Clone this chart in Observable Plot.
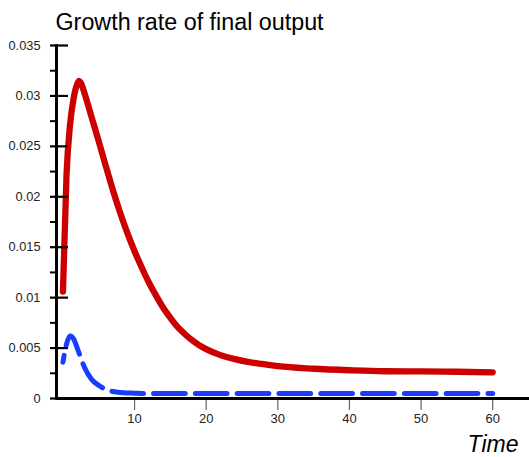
<!DOCTYPE html>
<html>
<head>
<meta charset="utf-8">
<script src="https://cdn.jsdelivr.net/npm/d3@7"></script>
<script src="https://cdn.jsdelivr.net/npm/@observablehq/plot@0.6"></script>
<style>
  html, body { margin: 0; padding: 0; background: #fff; }
  svg { font-family: "Liberation Sans", Arial, sans-serif; display: block; }
</style>
</head>
<body>
<div id="chart"></div>
<script>
const titleText = "Growth rate of final output";
const xLabelText = "Time";
const time = [0,0.5,1,1.5,2,2.25,2.5,3,4,5,6,7,8,9,10,11,12,13,14,15,16,17,18,19,20,22,24,26,28,30,35,40,45,50,55,60];
const redValues = [0.0106,0.0222,0.0272,0.0298,0.0312,0.0315,0.0313,0.0303,0.0279,0.0255,0.0230,0.0206,0.0184,0.0164,0.0146,0.0130,0.0115,0.0102,0.0090,0.0080,0.0071,0.0064,0.0058,0.0053,0.0049,0.0043,0.0039,0.0036,0.0034,0.0032,0.00295,0.0028,0.0027,0.00268,0.00265,0.0026];
const blueValues = [0.0036,0.0054,0.0062,0.0059,0.0050,0.0045,0.0040,0.0031,0.0019,0.0013,0.0009,0.0007,0.0006,0.00055,0.00053,0.0005,0.0005,0.0005,0.0005,0.0005,0.0005,0.0005,0.0005,0.0005,0.0005,0.0005,0.0005,0.0005,0.0005,0.0005,0.0005,0.0005,0.0005,0.0005,0.0005,0.0005];
const xTicks = [10,20,30,40,50,60];
const yMajorTicks = [0,0.005,0.01,0.015,0.02,0.025,0.03,0.035];
const yMinorTicks = [0.0025,0.0075,0.0125,0.0175,0.0225,0.0275,0.0325];
const yTickLabels = ["0","0.005","0.01","0.015","0.02","0.025","0.03","0.035"];

const redData = time.map((t, i) => ({t, v: redValues[i]}));
const blueData = time.map((t, i) => ({t, v: blueValues[i]}));

const dashLen = 31.7, gapLen = 10.1;
const dashAnchorT = 24.3; // a dash of the flat run starts here

const chart = Plot.plot({
  width: 529,
  height: 457,
  marginLeft: 56,
  marginRight: 1,
  marginTop: 45,
  marginBottom: 59,
  style: {fontFamily: "'Liberation Sans', Arial, sans-serif", background: "#fff"},
  x: {domain: [-0.9, 65.0]},
  y: {domain: [0, 0.035]},
  marks: [
    Plot.line(blueData, {x: "t", y: "v", stroke: "#1a3cff", strokeWidth: 5, strokeDasharray: `${dashLen},${gapLen}`, curve: "monotone-x", className: "blue-line"}),
    Plot.line(redData, {x: "t", y: "v", stroke: "#cc0000", strokeWidth: 6.3, strokeLinecap: "round", strokeLinejoin: "round", curve: "monotone-x"}),
    Plot.axisX(xTicks, {anchor: "bottom", tickSize: 12, tickPadding: 3, stroke: "#666", strokeWidth: 1.2, fill: "#222", fontSize: 13, label: null}),
    Plot.axisY(yMinorTicks, {anchor: "left", tickSize: 6, text: null, stroke: "#000", strokeWidth: 2, label: null}),
    Plot.axisY(yMajorTicks, {anchor: "left", tickSize: 18, dx: 12, text: null, stroke: "#000", strokeWidth: 2.2, label: null}),
    Plot.axisY(yMajorTicks, {anchor: "left", tickSize: 0, tickPadding: 16, tickFormat: (d, i) => yTickLabels[i], fill: "#222", fontSize: 12.8, label: null}),
    Plot.frame({anchor: "left", stroke: "#000", strokeWidth: 3}),
    Plot.frame({anchor: "bottom", stroke: "#000", strokeWidth: 3}),
    Plot.text([titleText], {frameAnchor: "top-left", textAnchor: "start", dx: -1, dy: -32, fontSize: 23.3, fill: "#000"}),
    Plot.text([xLabelText], {frameAnchor: "bottom-right", textAnchor: "end", dx: -10, dy: 53, fontSize: 23, fontStyle: "italic", fill: "#000"})
  ]
});
document.getElementById("chart").appendChild(chart);

// align the dash pattern so the flat run matches the reference
const bluePath = chart.querySelector(".blue-line path");
if (bluePath && bluePath.getTotalLength) {
  const targetX = chart.scale("x").apply(dashAnchorT);
  const total = bluePath.getTotalLength();
  let lo = 0, hi = total;
  for (let k = 0; k < 40; k++) {
    const mid = (lo + hi) / 2;
    if (bluePath.getPointAtLength(mid).x < targetX) lo = mid; else hi = mid;
  }
  const period = dashLen + gapLen;
  const offset = (period - (lo % period)) % period;
  bluePath.setAttribute("stroke-dashoffset", offset);
}
</script>
</body>
</html>
